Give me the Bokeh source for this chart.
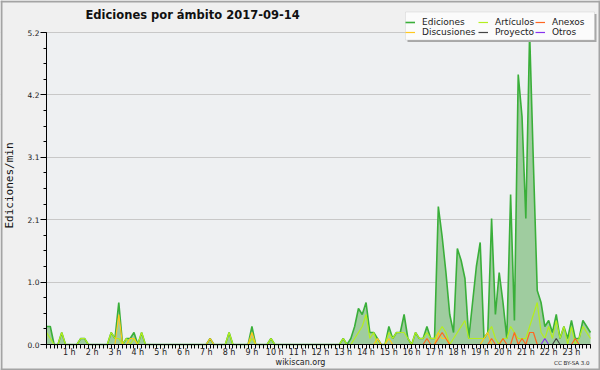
from bokeh.plotting import figure
from bokeh.models import (Range1d, FixedTicker, Label, Legend, LegendItem, ColumnDataSource,
                          BoxAnnotation)
from bokeh.embed import file_html
from bokeh.resources import INLINE

TITLE = "Ediciones por ámbito  2017-09-14"
Y_LABEL = "Ediciones/min"
FOOTER = "wikiscan.org"
LICENSE = "CC BY-SA 3.0"
HOUR_LABELS = ["1 h", "2 h", "3 h", "4 h", "5 h", "6 h", "7 h", "8 h", "9 h", "10 h", "11 h", "12 h",
               "13 h", "14 h", "15 h", "16 h", "17 h", "18 h", "19 h", "20 h", "21 h", "22 h", "23 h"]
Y_TICK_LABELS = ["0.0", "1.0", "2.1", "3.1", "4.2", "5.2"]
Y_MAX = 5.2

# one value per 10-minute slot (144 slots)
ediciones = [
    0.3, 0.3, 0, 0, 0.2, 0, 0, 0, 0, 0.1, 0.1, 0,
    0, 0, 0, 0, 0, 0.2, 0.1, 0.7, 0, 0.1, 0.1, 0.2,
    0, 0.2, 0, 0, 0, 0, 0, 0, 0, 0, 0, 0,
    0, 0, 0, 0, 0, 0, 0, 0.1, 0, 0, 0, 0,
    0.2, 0, 0, 0, 0, 0, 0.3, 0, 0, 0, 0, 0.1,
    0, 0, 0, 0, 0, 0, 0, 0, 0, 0, 0, 0,
    0, 0, 0, 0, 0, 0, 0.1, 0, 0.1, 0.3, 0.6, 0.5,
    0.7, 0.2, 0.2, 0.1, 0, 0, 0.3, 0.1, 0.2, 0.2, 0.5, 0.1,
    0, 0.2, 0.1, 0.1, 0.3, 0.1, 0.1, 2.3, 1.8, 1.2, 0.5, 0.2,
    1.6, 1.4, 1.1, 0.1, 0.7, 1.3, 1.7, 0.1, 0.2, 2.1, 0.5, 1.2,
    0.7, 0.1, 2.5, 0.4, 4.5, 3.8, 2.1, 5.2, 3.0, 0.9, 0.7, 0.3,
    0.4, 0.2, 0.5, 0.1, 0.3, 0.1, 0.4, 0.1, 0.1, 0.4, 0.3, 0.2,
]
articulos = [
    0.2, 0.1, 0, 0, 0.2, 0, 0, 0, 0, 0.1, 0.1, 0,
    0, 0, 0, 0, 0, 0.2, 0.1, 0.1, 0, 0.1, 0, 0.1,
    0, 0.2, 0, 0, 0, 0, 0, 0, 0, 0, 0, 0,
    0, 0, 0, 0, 0, 0, 0, 0, 0, 0, 0, 0,
    0.2, 0, 0, 0, 0, 0, 0.1, 0, 0, 0, 0, 0.1,
    0, 0, 0, 0, 0, 0, 0, 0, 0, 0, 0, 0,
    0, 0, 0, 0, 0, 0, 0.1, 0, 0, 0.1, 0.2, 0.3,
    0.5, 0.1, 0.2, 0, 0, 0, 0.2, 0.1, 0.2, 0.2, 0.2, 0.1,
    0, 0.2, 0.1, 0.1, 0.2, 0.1, 0.1, 0.2, 0.3, 0.2, 0, 0.1,
    0.2, 0.3, 0.4, 0.1, 0.1, 0.1, 0.1, 0.1, 0.2, 0.3, 0.1, 0,
    0.1, 0.1, 0.3, 0.2, 0.1, 0.1, 0.1, 0.3, 0.5, 0.7, 0.2, 0.1,
    0.3, 0.1, 0.4, 0.1, 0.3, 0, 0.3, 0, 0.1, 0.3, 0.2, 0.1,
]
discusiones = [
    0, 0, 0, 0, 0, 0, 0, 0, 0, 0, 0, 0,
    0, 0, 0, 0, 0, 0, 0, 0.5, 0, 0, 0.1, 0.1,
    0, 0, 0, 0, 0, 0, 0, 0, 0, 0, 0, 0,
    0, 0, 0, 0, 0, 0, 0, 0.1, 0, 0, 0, 0,
    0, 0, 0, 0, 0, 0, 0.2, 0, 0, 0, 0, 0,
    0, 0, 0, 0, 0, 0, 0, 0, 0, 0, 0, 0,
    0, 0, 0, 0, 0, 0, 0, 0, 0, 0, 0, 0,
    0, 0, 0, 0.1, 0, 0, 0.1, 0, 0, 0, 0, 0,
    0, 0, 0, 0, 0, 0, 0, 0.2, 0.1, 0.1, 0, 0,
    0, 0, 0, 0, 0, 0, 0, 0.1, 0.2, 0, 0, 0,
    0, 0, 0, 0, 0, 0, 0, 0, 0, 0, 0, 0,
    0, 0, 0, 0, 0, 0, 0, 0, 0, 0, 0, 0,
]
anexos = [
    0, 0, 0, 0, 0, 0, 0, 0, 0, 0, 0, 0,
    0, 0, 0, 0, 0, 0, 0, 0, 0, 0, 0, 0,
    0, 0, 0, 0, 0, 0, 0, 0, 0, 0, 0, 0,
    0, 0, 0, 0, 0, 0, 0, 0, 0, 0, 0, 0,
    0, 0, 0, 0, 0, 0, 0, 0, 0, 0, 0, 0,
    0, 0, 0, 0, 0, 0, 0, 0, 0, 0, 0, 0,
    0, 0, 0, 0, 0, 0, 0, 0, 0, 0, 0, 0,
    0, 0, 0, 0, 0, 0, 0, 0, 0, 0, 0, 0,
    0, 0, 0, 0, 0.1, 0, 0, 0.1, 0.2, 0.1, 0, 0,
    0, 0, 0, 0, 0, 0, 0, 0, 0, 0.1, 0, 0,
    0.1, 0, 0, 0.2, 0, 0.1, 0, 0.2, 0.2, 0, 0, 0,
    0, 0, 0, 0, 0, 0, 0, 0.1, 0, 0, 0, 0,
]
proyecto = [0] * 134 + [0.1] + [0] * 9
otros = [0] * 131 + [0.1] + [0] * 12
slot = list(range(len(ediciones)))

src = ColumnDataSource(dict(slot=slot, ediciones=ediciones, articulos=articulos,
                            discusiones=discusiones, anexos=anexos,
                            proyecto=proyecto, otros=otros))

FONT = "DejaVu Sans"
W, H = 600, 370                 # canvas size
X0, X1, Y0 = 46, 590, 344       # pixel positions of the data area (left, right, baseline)
PX_PER_UNIT = 60.0
BG = "#f0f0f0"
EDGE = "#a4a4a4"
n_last = len(slot) - 1
px_slot = (X1 - X0) / n_last
x_range = Range1d(-X0 / px_slot, n_last + (W - X1) / px_slot)
y_range = Range1d(-(H - Y0) / PX_PER_UNIT, Y0 / PX_PER_UNIT)

p = figure(width=W, height=H, output_backend="svg", toolbar_location=None, title=None,
           x_range=x_range, y_range=y_range, min_border=0,
           background_fill_color=BG, border_fill_color=BG)
p.min_border_left = p.min_border_right = p.min_border_top = p.min_border_bottom = 0
p.outline_line_color = None

# plot area background (under grid)
p.add_layout(BoxAnnotation(left=0, right=n_last, bottom=0, top=Y_MAX, fill_color="#eef0f2",
                           fill_alpha=1, line_color=None, level="image"))

# grid
y_ticks = [Y_MAX * k / 5 for k in range(6)]
y_minor = [Y_MAX * k / 20 for k in range(21)]
p.xgrid.visible = False
p.ygrid.ticker = FixedTicker(ticks=y_ticks)
p.ygrid.grid_line_color = "#c8c8c8"
# hide grid outside the data area
for kw in (dict(right=0), dict(left=n_last), dict(bottom=Y_MAX + 0.01)):
    p.add_layout(BoxAnnotation(fill_color=BG, fill_alpha=1, line_color=None,
                               level="underlay", **kw))
# outer frame lines
for kw in (dict(right=2, right_units="screen"), dict(left=W - 2, left_units="screen"),
           dict(bottom=H - 2, bottom_units="screen"), dict(top=2, top_units="screen")):
    p.add_layout(BoxAnnotation(fill_color=EDGE, fill_alpha=1, line_color=None,
                               level="underlay", **kw))

# series
p.varea(x="slot", y1=0, y2="ediciones", source=src, fill_color="#9fcc9f")
r_ed = p.line("slot", "ediciones", source=src, line_color="#3aaf3a", line_width=1.6)
r_ar = p.line("slot", "articulos", source=src, line_color="#b4ee1e", line_width=1.2)
r_di = p.line("slot", "discusiones", source=src, line_color="#ffc81e", line_width=1.2)
r_an = p.line("slot", "anexos", source=src, line_color="#ff6622", line_width=1.2)
r_pr = p.line("slot", "proyecto", source=src, line_color="#444444", line_width=1.2)
r_ot = p.line("slot", "otros", source=src, line_color="#8833ee", line_width=1.2)

# x axis
hour_ticks = [6 * (i + 1) for i in range(len(HOUR_LABELS))]
xa = p.xaxis[0]
xa.fixed_location = 0
xa.bounds = (0, n_last)
xa.ticker = FixedTicker(ticks=hour_ticks, minor_ticks=slot)
xa.major_label_overrides = {t: lab for t, lab in zip(hour_ticks, HOUR_LABELS)}
xa.axis_line_color = "black"
xa.major_tick_line_color = "black"
xa.minor_tick_line_color = "black"
xa.major_tick_out = 4
xa.major_tick_in = 0
xa.minor_tick_out = 4
xa.minor_tick_in = 0
xa.major_label_standoff = -1
xa.major_label_text_font = FONT
xa.major_label_text_font_size = "8px"
xa.major_label_text_color = "#222222"

# y axis
ya = p.yaxis[0]
ya.fixed_location = 0
ya.bounds = (0, Y_MAX)
ya.ticker = FixedTicker(ticks=y_ticks, minor_ticks=y_minor)
ya.major_label_overrides = {t: lab for t, lab in zip(y_ticks, Y_TICK_LABELS)}
ya.axis_line_color = "black"
ya.major_tick_line_color = "black"
ya.minor_tick_line_color = "black"
ya.major_tick_out = 6
ya.major_tick_in = 0
ya.minor_tick_out = 3
ya.minor_tick_in = 0
ya.major_label_standoff = 1
ya.major_label_text_font = FONT
ya.major_label_text_font_size = "7.5px"
ya.major_label_text_color = "#222222"

# texts (screen units: from the canvas' bottom-left)
p.add_layout(Label(x=85, y=H - 14, x_units="screen", y_units="screen", text=TITLE,
                   text_font=FONT, text_font_style="bold", text_font_size="11.5px",
                   text_baseline="middle", text_align="left", text_color="#111111"))
p.add_layout(Label(x=9, y=H - 185, x_units="screen", y_units="screen", text=Y_LABEL, angle=1.5708,
                   text_font="DejaVu Sans Mono", text_font_size="11px", text_baseline="middle",
                   text_align="center", text_color="#111111"))
p.add_layout(Label(x=300, y=H - 361.5, x_units="screen", y_units="screen", text=FOOTER,
                   text_font=FONT, text_font_size="8px", text_baseline="middle",
                   text_align="center", text_color="#222222"))
p.add_layout(Label(x=589, y=H - 362.5, x_units="screen", y_units="screen", text=LICENSE,
                   text_font=FONT, text_font_size="5.5px", text_baseline="middle",
                   text_align="right", text_color="#222222"))

# legend box with shadow
p.add_layout(BoxAnnotation(left=407, right=596, bottom=H - 41.5, top=H - 13.5,
                           left_units="screen", right_units="screen",
                           bottom_units="screen", top_units="screen",
                           fill_color="#a8a8a8", fill_alpha=1, line_color=None))
p.add_layout(BoxAnnotation(left=405, right=594, bottom=H - 39.5, top=H - 11.5,
                           left_units="screen", right_units="screen",
                           bottom_units="screen", top_units="screen",
                           fill_color="#fbfbfb", fill_alpha=1, line_color="#b8b8b8",
                           line_width=1))

legend_columns = [
    (405, [("Ediciones", r_ed), ("Discusiones", r_di)]),
    (478, [("Artículos", r_ar), ("Proyecto", r_pr)]),
    (535, [("Anexos", r_an), ("Otros", r_ot)]),
]
for x_left, entries in legend_columns:
    lg = Legend(items=[LegendItem(label=lab, renderers=[r]) for lab, r in entries],
                location=(x_left, H - 36.5), orientation="vertical",
                glyph_width=10, glyph_height=10, label_height=10, label_standoff=7, spacing=0,
                padding=3, margin=0, label_text_font=FONT, label_text_font_size="9px",
                label_text_line_height=1.0,
                label_text_color="#222222", border_line_color=None,
                background_fill_alpha=0.0)
    p.add_layout(lg)

open("out.html", "w").write(file_html(p, INLINE))
